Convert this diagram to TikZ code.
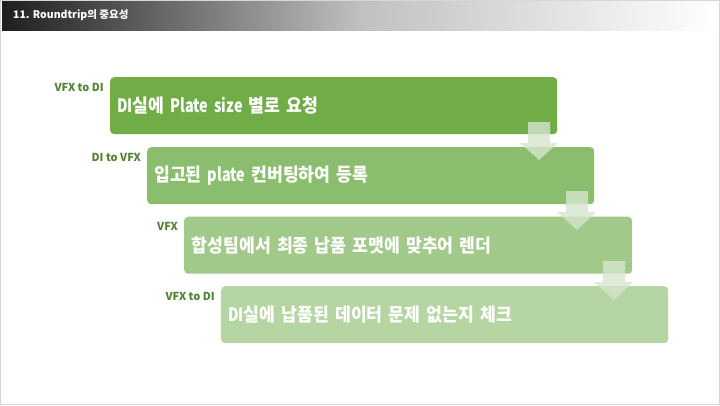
\documentclass[tikz,border=0pt]{standalone}
\usepackage{fontspec}
\setmainfont{Noto Sans CJK KR}
\newfontfamily\boxfont{Noto Sans CJK KR}[FakeStretch=0.93]
\newfontfamily\latfont{Noto Sans CJK KR}[FakeStretch=0.78]
\newcommand\lat[1]{{\latfont\bfseries #1}}
\usetikzlibrary{calc}
\definecolor{gA}{RGB}{112,173,71}
\definecolor{gB}{RGB}{139,189,110}
\definecolor{gC}{RGB}{160,201,138}
\definecolor{gD}{RGB}{181,214,163}
\definecolor{lblc}{RGB}{84,130,53}
\definecolor{arrc}{RGB}{214,228,206}
\tikzset{
  stepbox/.style={draw=none, rounded corners=4pt, minimum width=447pt, minimum height=57pt,
    inner xsep=7pt, inner ysep=0pt, text width=433pt, align=left, anchor=north west,
    text=white, font=\boxfont\bfseries\fontsize{18.5pt}{20pt}\selectfont},
  lbl/.style={inner sep=0pt, text=lblc, font=\bfseries\fontsize{11pt}{12pt}\selectfont, anchor=base east},
  downarrow/.style={fill=arrc, draw=none, opacity=0.8}
}
\begin{document}
\begin{tikzpicture}[x=1pt,y=-1pt]
\useasboundingbox (0,0) rectangle (720,405);
\fill[white] (0,0) rectangle (720,405);
% header
\shade[left color={rgb,255:red,30;green,30;blue,30}, right color={rgb,255:red,192;green,192;blue,192}] (2,1) rectangle (360,30);
\shade[left color={rgb,255:red,192;green,192;blue,192}, right color=white] (360,1) rectangle (718,30);
\node[anchor=west, inner sep=0pt, text=white, font=\bfseries\fontsize{10.5pt}{12pt}\selectfont] (title) at (13,15.5) {11. Roundtrip의 중요성};
% boxes
\node[stepbox, fill=gA] (b1) at (110,77) {\lat{DI}실에 \lat{Plate size} 별로 요청};
\node[stepbox, fill=gB, inner xsep=6.5pt] (b2) at (147,147) {입고된 \lat{plate} 컨버팅하여 등록};
\node[stepbox, fill=gC, inner xsep=7.5pt] (b3) at (184,216.5) {합성팀에서 최종 납품 포맷에 맞추어 렌더};
\node[stepbox, fill=gD, inner xsep=5pt] (b4) at (221,286) {\lat{DI}실에 납품된 데이터 문제 없는지 체크};
% labels
\node[lbl] (l1) at ([xshift=-6pt,yshift=-14pt]b1.north west) {VFX to DI};
\node[lbl] (l2) at ([xshift=-6pt,yshift=-14pt]b2.north west) {DI to VFX};
\node[lbl] (l3) at ([xshift=-6pt,yshift=-14pt]b3.north west) {VFX};
\node[lbl] (l4) at ([xshift=-6pt,yshift=-14pt]b4.north west) {VFX to DI};
% arrows
\fill[downarrow] (528,122) -- (550,122) -- (550,143) -- (558,143) -- (539,160) -- (520,143) -- (528,143) -- cycle;
\fill[downarrow] (566,191) -- (588,191) -- (588,212) -- (596,212) -- (577,230) -- (557,212) -- (566,212) -- cycle;
\fill[downarrow] (603,261) -- (625,261) -- (625,282) -- (633,282) -- (614,300) -- (594,282) -- (603,282) -- cycle;
% frame
\draw[line width=0.8pt, draw={rgb,255:red,215;green,215;blue,215}] (0.4,0.4) rectangle (719.6,404.6);
\end{tikzpicture}
\end{document}
